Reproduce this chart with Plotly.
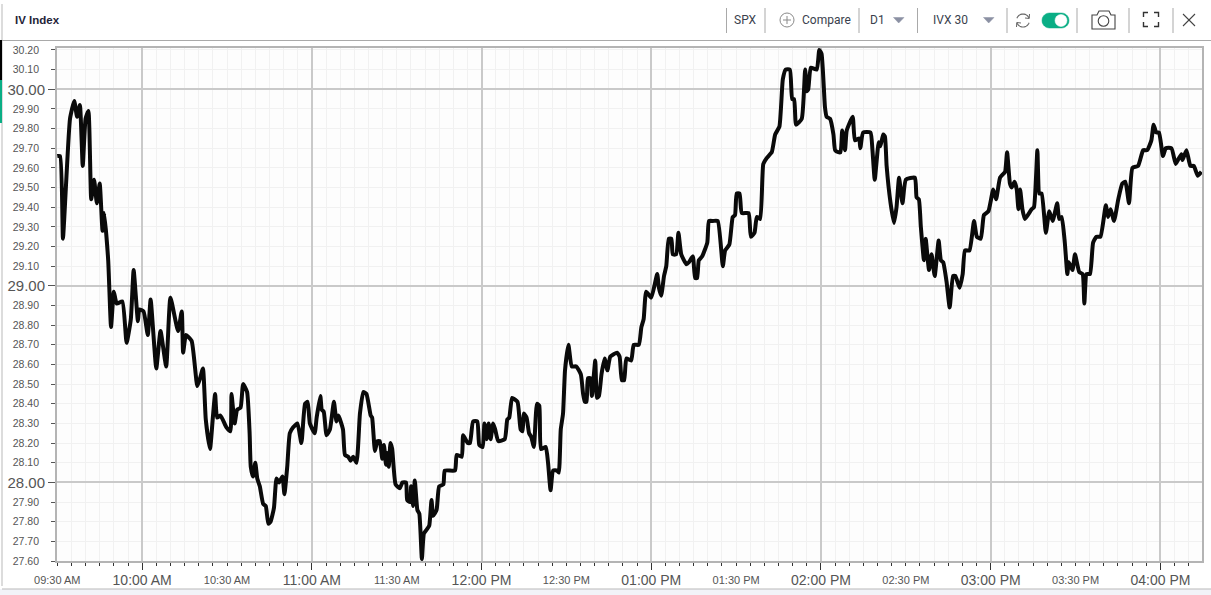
import math
import plotly.graph_objects as go

W, H = 1211, 595

# minutes since the 09:30 open
minutes = [0,1,2,3,4.5,6,7,8,9,10,11,12,13,14,15,16,16.6,18,19,20,21,23,24.5,26,27,28.5,29,30.5,32,33,35,36.5,38.5,40,42.7,44,44.5,45.5,47.5,49.5,50.5,51.5,52.5,54,55,55.8,56.5,57.7,59.8,61.2,61.6,62.7,63.6,64.8,65.7,67.1,68,68.4,69.2,70,70.7,71.6,72.8,73.7,74.6,75.4,76.6,77.5,78.4,79.6,80.3,81.3,82.2,83.4,84.9,86.3,87.6,88.5,89.3,91,91.7,93,93.5,94.2,95.2,96.4,97.8,98.7,99.4,101,101.7,102.9,103.7,104.6,105.8,107,108.2,109.3,110.8,111.3,112.3,113.2,114,114.9,115.5,116.2,116.6,117.2,117.8,118.4,119.6,121.1,122,123.3,123.7,124.7,125.1,125.8,126.4,127.3,128,128.9,129.6,130.6,131.5,132.3,132.9,134.1,135,136.5,137,140.6,141.2,143,143.5,145.1,145.9,147,148.5,149.2,150.4,151,151.8,152.5,153.2,154.1,154.8,155.9,158.2,159.1,159.8,160.8,162.7,163.8,164.5,164.9,165.9,166.8,167.6,168.5,169.6,170.4,171,172.7,173.5,174.4,175.3,176.7,177.3,178,178.8,179.5,180.7,181.9,183.5,185.1,185.9,186.5,187.1,187.6,188.5,189,190.2,190.8,191.5,192.4,193.5,194.5,195.5,197.9,198.8,199.6,200.4,201.2,202.9,203.8,205.6,206.5,207.3,208.2,210,212.1,212.7,213.5,214.5,215.3,216.2,217.1,217.6,218.8,219.6,220.6,222.4,223.3,224.7,225.5,226.2,226.8,228,229.8,230.4,231.8,233.5,235.3,236.1,237.6,238.8,239.6,240.2,241.2,242,244.4,245.2,246.5,247.3,248.5,249.6,250.8,252.6,253.8,255.3,256.5,257.5,259,259.8,260.5,261.2,263.2,264.4,265,265.5,266.4,268.5,269.4,270.2,271.4,272,273.2,274.4,275,276.1,276.9,277.5,278.5,279.1,281.2,282,283.5,283.9,284.9,287.5,288.2,289,290.4,291,292,292.6,293.2,294.6,295.8,296.7,297.6,298.8,300,303.2,303.8,304.6,305.3,306.4,307,308.2,309.1,310.2,311.6,312.4,313.2,314.4,315.5,316.7,317.5,319,320.1,320.9,322.5,324.1,325.1,326.5,327.6,329.2,330.9,331.9,333.3,334.5,335.1,335.8,336.8,337.4,338.4,339.2,339.8,340.4,341.2,342.1,344.5,345.3,346.5,347.2,348,349.5,350.7,351.9,353.5,354.2,355.1,356.2,357.1,357.6,358.9,359.8,361.3,362.5,363.1,363.9,365.1,366.2,367.4,368.8,370.7,371.5,372.4,373.6,375.1,376.5,377.6,378.9,380.1,382.1,383.9,385.3,386.8,387.6,388.5,389.5,390.9,391.9,393.9,395.4,396.2,397.4,397.8,399.2,400.6,401.8,403.2,404.5]

iv_index = [29.66,29.66,29.24,29.49,29.85,29.94,29.86,29.92,29.61,29.85,29.89,29.44,29.54,29.42,29.52,29.28,29.37,29.13,28.79,28.97,28.91,28.92,28.71,28.83,29.08,28.82,28.88,28.87,28.75,28.93,28.58,28.77,28.59,28.94,28.77,28.87,28.66,28.75,28.72,28.49,28.53,28.58,28.32,28.17,28.33,28.45,28.33,28.34,28.28,28.26,28.45,28.30,28.37,28.38,28.50,28.46,28.25,28.08,28.03,28.10,28.02,27.98,27.89,27.88,27.79,27.80,27.87,28.02,28.00,28.03,27.94,28.08,28.25,28.28,28.30,28.20,28.40,28.41,28.30,28.25,28.33,28.44,28.37,28.36,28.24,28.27,28.41,28.31,28.34,28.27,28.14,28.13,28.11,28.13,28.10,28.35,28.46,28.45,28.34,28.33,28.16,28.21,28.21,28.12,28.19,28.09,28.15,28.08,28.20,28.17,27.99,27.97,28.00,28.00,27.91,27.90,27.98,27.88,28.01,27.86,27.84,27.61,27.74,27.76,27.78,27.91,27.83,27.86,27.98,27.99,28.06,28.06,28.14,28.13,28.24,28.20,28.20,28.31,28.31,28.19,28.18,28.30,28.22,28.30,28.22,28.30,28.27,28.21,28.22,28.32,28.33,28.43,28.41,28.27,28.26,28.35,28.33,28.25,28.23,28.18,28.40,28.39,28.17,28.18,28.10,27.96,28.06,28.06,28.05,28.27,28.35,28.57,28.70,28.59,28.59,28.55,28.45,28.41,28.41,28.53,28.53,28.44,28.62,28.43,28.44,28.55,28.63,28.57,28.64,28.66,28.64,28.52,28.52,28.63,28.62,28.70,28.70,28.79,28.83,28.97,28.94,29.06,28.99,28.95,29.05,29.10,29.24,29.24,29.16,29.16,29.27,29.16,29.11,29.12,29.15,29.04,29.04,29.13,29.15,29.22,29.33,29.33,29.33,29.10,29.18,29.21,29.35,29.36,29.47,29.47,29.37,29.37,29.25,29.27,29.35,29.34,29.62,29.65,29.68,29.77,29.81,30.05,30.10,30.10,29.95,29.95,29.82,29.85,30.10,29.99,30.00,30.11,30.10,30.20,30.18,29.91,29.86,29.85,29.77,29.69,29.68,29.68,29.79,29.69,29.79,29.86,29.74,29.75,29.70,29.78,29.78,29.69,29.54,29.73,29.71,29.77,29.76,29.61,29.42,29.32,29.40,29.55,29.42,29.54,29.55,29.45,29.44,29.30,29.13,29.24,29.08,29.16,29.05,29.23,29.13,29.12,29.02,28.89,29.05,29.05,28.99,29.06,29.18,29.18,29.33,29.25,29.24,29.36,29.38,29.49,29.44,29.55,29.57,29.58,29.68,29.52,29.50,29.53,29.49,29.39,29.49,29.39,29.34,29.39,29.40,29.69,29.47,29.47,29.27,29.38,29.33,29.42,29.34,29.35,29.22,29.06,29.12,29.08,29.16,29.07,29.06,28.91,29.06,29.06,29.22,29.25,29.25,29.41,29.35,29.39,29.33,29.44,29.52,29.53,29.42,29.60,29.61,29.69,29.69,29.74,29.82,29.78,29.78,29.66,29.70,29.70,29.62,29.64,29.67,29.64,29.69,29.61,29.61,29.56,29.58]

hour_ticks = [30, 90, 150, 210, 270, 330, 390]
hour_labels = ["10:00 AM", "11:00 AM", "12:00 PM", "01:00 PM", "02:00 PM", "03:00 PM", "04:00 PM"]
half_ticks = [0, 60, 120, 180, 240, 300, 360]
half_labels = ["09:30 AM", "10:30 AM", "11:30 AM", "12:30 PM", "01:30 PM", "02:30 PM", "03:30 PM"]
big_y = [28, 29, 30]
big_y_labels = ["28.00", "29.00", "30.00"]
small_y = [27.6,27.7,27.8,27.9,28.1,28.2,28.3,28.4,28.5,28.6,28.7,28.8,28.9,29.1,29.2,29.3,29.4,29.5,29.6,29.7,29.8,29.9,30.1,30.2]
small_y_labels = [f"{v:.2f}" for v in small_y]

X_RANGE = [-0.1, 404.7]
Y_RANGE = [27.6, 30.2125]
FONT = "Liberation Sans, Arial, sans-serif"
UI_FONT = "Roboto, Arial, sans-serif"
GREY = "#555555"
MAJOR = "#c9c9c9"
MINOR = "#f1f1f1"
EDGE = "#b4b4b4"
DOM_X = [57 / W, 1202 / W]
DOM_Y = [1 - 561 / H, 1 - 47.5 / H]


def px(x):
    return x / W


def py(y):
    return 1 - y / H


shapes, annos = [], []


def line(x0, y0, x1, y1, color="#a9a9a9", width=1):
    shapes.append(dict(type="line", xref="paper", yref="paper", x0=px(x0), y0=py(y0), x1=px(x1), y1=py(y1),
                       line=dict(color=color, width=width), layer="above"))


def path(points, color="#444444", width=1, fill=None, close=False):
    d = "M" + " L".join(f"{px(a):.5f},{py(b):.5f}" for a, b in points) + (" Z" if close else "")
    shapes.append(dict(type="path", xref="paper", yref="paper", path=d,
                       line=dict(color=color, width=width), fillcolor=fill or "rgba(0,0,0,0)", layer="above"))


def rect(x0, y0, x1, y1, fill, color=None, width=0):
    shapes.append(dict(type="rect", xref="paper", yref="paper", x0=px(x0), y0=py(y0), x1=px(x1), y1=py(y1),
                       fillcolor=fill, line=dict(color=color or fill, width=width), layer="above"))


def circle(cx, cy, r, fill="rgba(0,0,0,0)", color="#777777", width=1):
    shapes.append(dict(type="circle", xref="paper", yref="paper", x0=px(cx - r), y0=py(cy - r), x1=px(cx + r), y1=py(cy + r),
                       fillcolor=fill, line=dict(color=color, width=width), layer="above"))


def arc(cx, cy, r, a0, a1, n=14):
    return [(cx + r * math.cos(math.radians(a0 + (a1 - a0) * i / n)),
             cy + r * math.sin(math.radians(a0 + (a1 - a0) * i / n))) for i in range(n + 1)]


def text(x, y, s, size=12, color="#3a3f4d", anchor="center", font=UI_FONT):
    annos.append(dict(xref="paper", yref="paper", x=px(x), y=py(y), text=s, showarrow=False, xanchor=anchor,
                      yanchor="middle", font=dict(family=font, size=size, color=color)))


# card, page strip and header rule
rect(0, 589, W, H, "#f2f3f8")
line(2, 589, W, 589, "#b9b9b9", 1)
line(2, 4, 2, 586, "#b9b9b9", 1)
line(2, 40.5, W, 40.5, "#a9a9a9", 1)
rect(0, 40, 2, 80, "#000000")
rect(0, 80, 2, 123, "#0aae85")

# toolbar
text(13, 20, "<b>IV Index</b>", 11.5, "#1f2438", "left", FONT)
for sx in [726.5, 765, 859, 917.5, 1007, 1077, 1129, 1173]:
    line(sx, 8, sx, 33)
text(745.5, 20, "SPX", 12)
circle(787, 20, 7, color="#8a8a8a")
line(783, 20, 791, 20, "#8a8a8a")
line(787, 16, 787, 24, "#8a8a8a")
text(800, 20, "Compare", 12, anchor="left")
text(877, 20, "D1", 12)
path([(893.5, 17.5), (904, 17.5), (898.7, 23)], "#8b90a3", 0.5, "#8b90a3", True)
text(950.5, 20, "IVX 30", 12)
path([(983.5, 17.5), (994, 17.5), (988.7, 23)], "#8b90a3", 0.5, "#8b90a3", True)
path(arc(1023, 20.5, 6.5, 200, 340), "#666666", 1.1)
path(arc(1023, 20.5, 6.5, 20, 160), "#666666", 1.1)
path([(1029.5, 14), (1029.2, 18.5), (1025, 18)], "#666666", 1)
path([(1016.5, 27), (1016.8, 22.5), (1021, 23)], "#666666", 1)
path(arc(1049.5, 20.5, 7.5, 90, 270) + arc(1061.5, 20.5, 7.5, -90, 90), "#0aae85", 0.5, "#0aae85", True)
circle(1061, 20.5, 6, "#ffffff", "#ffffff", 0.5)
path([(1092, 15), (1097, 15), (1099, 11), (1109, 11), (1111, 15), (1115, 15), (1115, 29), (1092, 29)], "#444444", 1.1, None, True)
circle(1103.5, 21, 5.3, color="#444444", width=1.1)
path([(1143.5, 17), (1143.5, 12.5), (1148, 12.5)], "#333333", 1.4)
path([(1154, 12.5), (1158.5, 12.5), (1158.5, 17)], "#333333", 1.4)
path([(1143.5, 22), (1143.5, 26.5), (1148, 26.5)], "#333333", 1.4)
path([(1154, 26.5), (1158.5, 26.5), (1158.5, 22)], "#333333", 1.4)
line(1183, 14, 1195, 26, "#444444", 1.1)
line(1195, 14, 1183, 26, "#444444", 1.1)

fig = go.Figure()
# main series on the axes that carry the hour and 1.00 labels
fig.add_trace(go.Scatter(x=minutes, y=iv_index, mode="lines", xaxis="x", yaxis="y",
                         line=dict(color="#0a0a0a", width=4, shape="spline", smoothing=0.45),
                         hoverinfo="x+y", showlegend=False))
# same series, transparent: keeps the overlay axes with the small labels drawn
fig.add_trace(go.Scatter(x=minutes, y=iv_index, mode="lines", xaxis="x2", yaxis="y2",
                         line=dict(color="rgba(0,0,0,0)", width=0), hoverinfo="skip", showlegend=False))

fig.update_layout(
    template="none",
    width=W, height=H, autosize=False,
    margin=dict(l=0, r=0, t=0, b=0, pad=0),
    paper_bgcolor="#ffffff", plot_bgcolor="#fdfdfd",
    font=dict(family=FONT, color=GREY),
    showlegend=False, shapes=shapes, annotations=annos,
    xaxis=dict(automargin=False, domain=DOM_X, range=X_RANGE, tickmode="array", tickvals=hour_ticks, ticktext=hour_labels,
               tickfont=dict(size=14, color=GREY), ticks="outside", ticklen=7, tickcolor="#333333", tickwidth=1,
               ticklabelstandoff=-2, showgrid=True, gridcolor=MAJOR, gridwidth=1.5, zeroline=False,
               showline=True, linecolor=EDGE, linewidth=2, mirror=True,
               minor=dict(tickmode="linear", tick0=0, dtick=5, ticks="outside", ticklen=3, tickcolor="#333333",
                          tickwidth=1, showgrid=True, gridcolor=MINOR, gridwidth=1)),
    yaxis=dict(automargin=False, domain=DOM_Y, range=Y_RANGE, tickmode="array", tickvals=big_y, ticktext=big_y_labels,
               tickfont=dict(size=15, color=GREY), ticks="outside", ticklen=7, tickcolor="#555555", tickwidth=1,
               ticklabelstandoff=0, showgrid=True, gridcolor=MAJOR, gridwidth=1.5, zeroline=False,
               showline=True, linecolor=EDGE, linewidth=2, mirror=True,
               minor=dict(tickmode="linear", tick0=27.6, dtick=0.1, ticks="outside", ticklen=4, tickcolor="#555555",
                          tickwidth=1, showgrid=True, gridcolor=MINOR, gridwidth=1)),
    xaxis2=dict(automargin=False, domain=DOM_X, range=X_RANGE, overlaying="x", side="bottom", anchor="y2", tickmode="array",
                tickvals=half_ticks, ticktext=half_labels, tickfont=dict(size=11, color=GREY), ticks="",
                ticklabelstandoff=11, showgrid=False, zeroline=False, showline=False),
    yaxis2=dict(automargin=False, domain=DOM_Y, range=Y_RANGE, overlaying="y", side="left", anchor="x2", tickmode="array",
                tickvals=small_y, ticktext=small_y_labels, tickfont=dict(size=10.5, color=GREY), ticks="",
                ticklabelstandoff=17, showgrid=False, zeroline=False, showline=False),
)

fig.write_html("out.html", config=dict(displayModeBar=False),
               post_script="document.body.style.margin='0';")
